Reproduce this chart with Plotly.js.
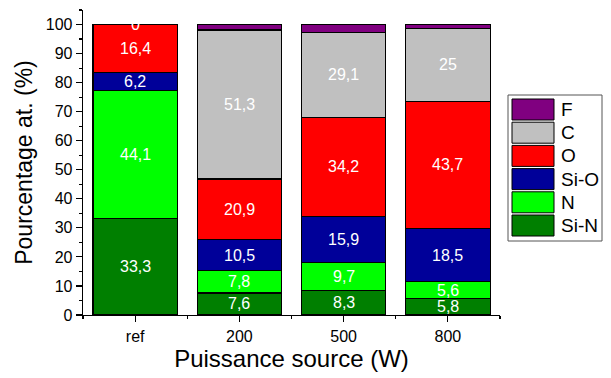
<!DOCTYPE html>
<html>
<head>
<meta charset="utf-8">
<script src="https://cdn.plot.ly/plotly-3.0.1.min.js"></script>
<style>html,body{margin:0;padding:0;background:#fff;}#chart{width:611px;height:378px;}</style>
</head>
<body>
<div id="chart"></div>
<script>
// ---- data ----
const categories = ["ref", "200", "500", "800"];
const seriesNames = ["Si-N", "N", "Si-O", "O", "C", "F"];
const siN  = [33.3, 7.6, 8.3, 5.8];
const nVal = [44.1, 7.8, 9.7, 5.6];
const siO  = [6.2, 10.5, 15.9, 18.5];
const oVal = [16.4, 20.9, 34.2, 43.7];
const cVal = [0, 51.3, 29.1, 25];
const fVal = [0, 1.9, 2.8, 1.4];
const showLabel = [true, true, true, true, true, false];
const colors = ["#007F00", "#00FF00", "#000099", "#FF0000", "#C0C0C0", "#800080"];

const allSeries = [siN, nVal, siO, oVal, cVal, fVal];
const xIdx = categories.map((c, i) => i);
const FONT = "'Liberation Sans', Arial, sans-serif";

const traces = allSeries.map((vals, k) => ({
  type: "bar",
  name: seriesNames[k],
  x: xIdx,
  y: vals,
  width: 0.81,
  marker: {color: colors[k], line: {color: "#000", width: 1.2}},
  showlegend: false,
  hoverinfo: "name+y"
}));

// value labels at segment centres
const annotations = [];
const cum = categories.map(() => 0);
allSeries.forEach((vals, k) => {
  vals.forEach((v, i) => {
    if (showLabel[k]) {
      annotations.push({
        x: xIdx[i], y: cum[i] + v / 2, xref: "x", yref: "y",
        text: String(v).replace(".", ","), showarrow: false,
        font: {family: FONT, size: 16, color: "#fff"}
      });
    }
    cum[i] += v;
  });
});

// custom legend (top-down: F ... Si-N)
const L = 83, R = 500, T = 10, B = 315;
const px = v => (v - L) / (R - L);
const py = v => (B - v) / (B - T);
const shapes = [];
shapes.push({type: "rect", xref: "paper", yref: "paper",
  x0: px(508), x1: px(602), y0: py(95), y1: py(241),
  line: {color: "#555", width: 1}, fillcolor: "#fff", layer: "below"});
const order = seriesNames.map((n, k) => k).reverse();
order.forEach((k, j) => {
  const top = 99 + j * 23.2;
  shapes.push({type: "rect", xref: "paper", yref: "paper",
    x0: px(512), x1: px(554), y0: py(top), y1: py(top + 21),
    fillcolor: colors[k], line: {color: "#000", width: 1}});
  annotations.push({xref: "paper", yref: "paper", x: px(559), y: py(top + 10.5),
    xanchor: "left", yanchor: "middle", text: seriesNames[k], showarrow: false,
    font: {family: FONT, size: 19, color: "#000"}});
});

const layout = {
  width: 611, height: 378,
  margin: {l: L, r: 611 - R, t: T, b: 378 - B},
  paper_bgcolor: "#fff", plot_bgcolor: "#fff",
  barmode: "stack",
  showlegend: false,
  font: {family: FONT, color: "#000"},
  xaxis: {
    range: [-0.5, 3.5], tickmode: "array", tickvals: xIdx, ticktext: categories,
    showline: true, linecolor: "#000", linewidth: 1.3, mirror: false,
    ticks: "outside", ticklen: 6, tickwidth: 1.2, tickcolor: "#000",
    minor: {ticks: "outside", tick0: 0.5, dtick: 1, ticklen: 3, tickcolor: "#000", tickwidth: 1.2},
    showgrid: false, zeroline: false,
    tickfont: {family: FONT, size: 16, color: "#000"},
    title: {text: "Puissance source (W)", font: {family: FONT, size: 24, color: "#000"}, standoff: 6}
  },
  yaxis: {
    range: [0, 105], tickmode: "linear", tick0: 0, dtick: 10,
    showline: true, linecolor: "#000", linewidth: 1.3,
    ticks: "outside", ticklen: 6, tickwidth: 1.2, tickcolor: "#000",
    minor: {ticks: "outside", tick0: 5, dtick: 10, ticklen: 3, tickcolor: "#000", tickwidth: 1.2},
    showgrid: false, zeroline: false,
    tickfont: {family: FONT, size: 16, color: "#000"},
    title: {text: "Pourcentage at. (%)", font: {family: FONT, size: 23, color: "#000"}, standoff: 6}
  },
  shapes: shapes,
  annotations: annotations
};

Plotly.newPlot("chart", traces, layout, {staticPlot: true, displayModeBar: false});
</script>
</body>
</html>
